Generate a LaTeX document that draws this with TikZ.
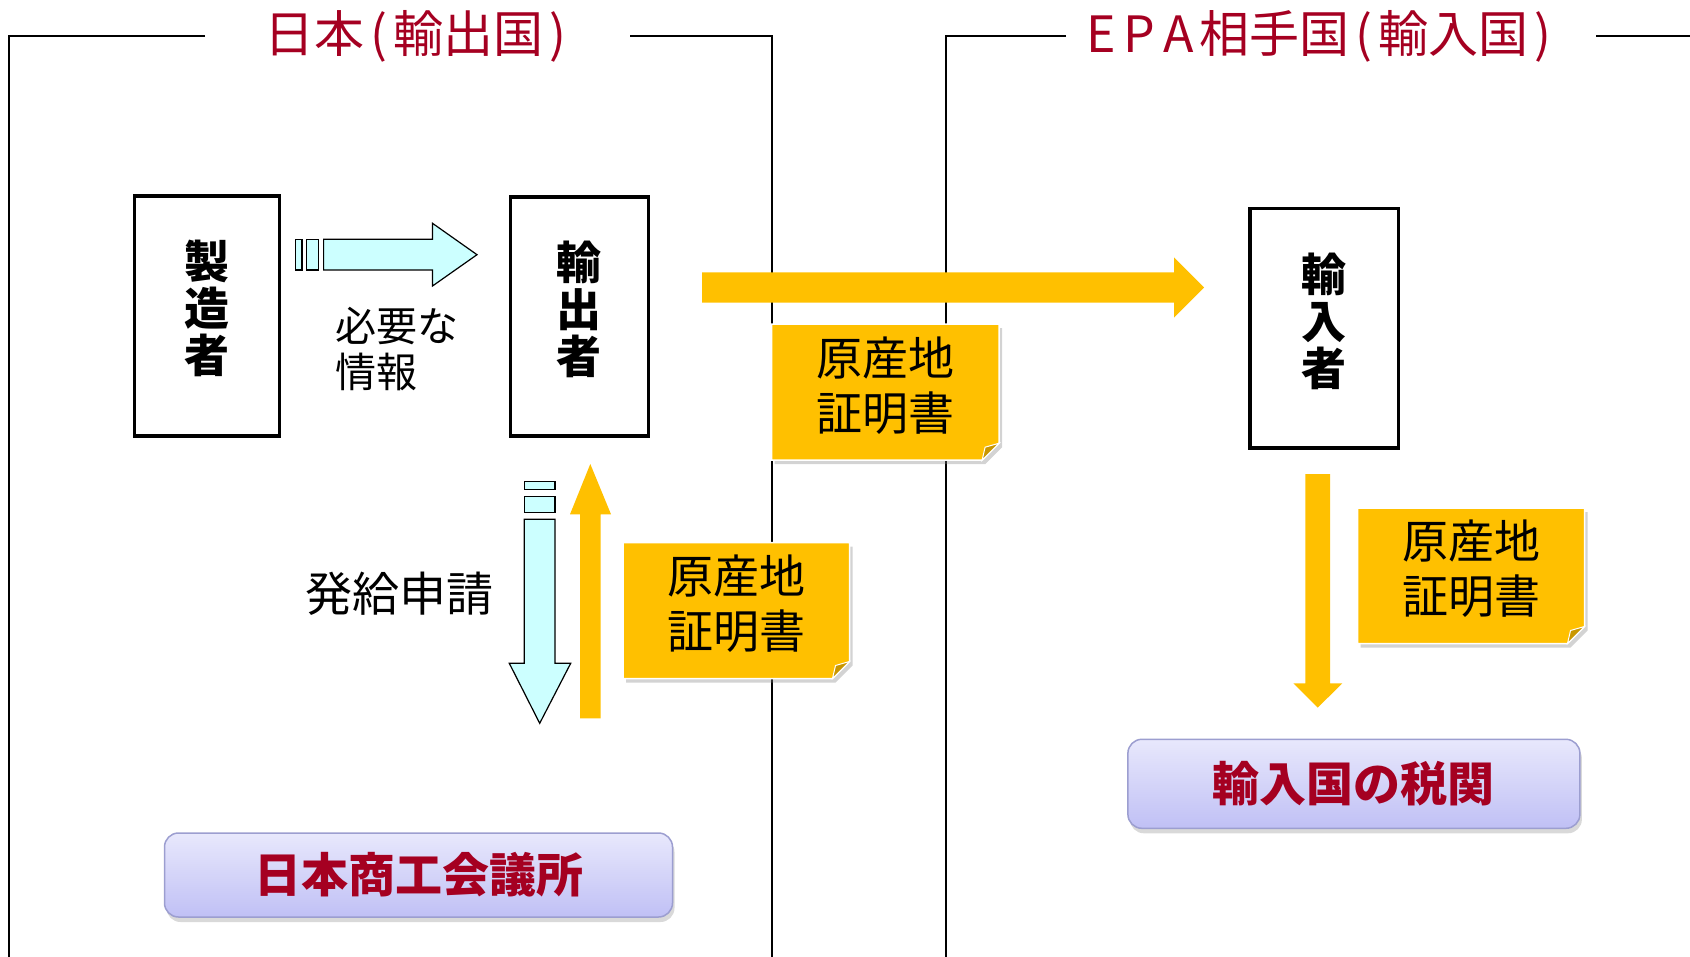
\documentclass[tikz,border=0pt]{standalone}
\usepackage{fontspec}
\newfontfamily\jp{Noto Sans CJK JP}
\usetikzlibrary{calc,shadows,backgrounds}
\definecolor{jred}{HTML}{A50021}
\definecolor{orng}{HTML}{FFC000}
\definecolor{foldc}{HTML}{C99700}
\definecolor{lcyan}{HTML}{CCFFFF}
\definecolor{lavtop}{HTML}{E8E8FC}
\definecolor{lavbot}{HTML}{C0C0F5}
\definecolor{lavedge}{HTML}{9C9ED0}
% note shape: node text sits 7pt above the sheet's centre
\newcommand\NoteBg[1]{%
  \begin{scope}[on background layer]
    \filldraw[fill=orng, draw=white, line width=1.5pt,
      drop shadow={shadow xshift=3pt, shadow yshift=-4pt, opacity=0.35}]
      ($(#1.north west)+(0,7)$) -- ($(#1.north east)+(0,7)$) -- ($(#1.south east)+(0,-10)$)
      -- ($(#1.south east)+(-17,7)$) -- ($(#1.south west)+(0,7)$) -- cycle;
    \filldraw[fill=foldc, draw=white, line width=1pt]
      ($(#1.south east)+(0,-10)$) -- ($(#1.south east)+(-17,7)$)
      -- ($(#1.south east)+(-14,-6)$) -- cycle;
  \end{scope}}
\newcommand\tk{\kern6pt}
\begin{document}
\begin{tikzpicture}[x=1pt,y=-1pt,
  frame/.style={draw=black, line width=2pt},
  title/.style={font=\jp\fontsize{50}{54}\selectfont, text=jred, inner sep=0pt},
  personbox/.style={draw=black, line width=3.5pt, inner sep=0pt},
  vtext/.style={font=\jp\bfseries\fontsize{45}{47}\selectfont, align=center, inner sep=0pt},
  infotext/.style={font=\jp\fontsize{41}{46}\selectfont, align=left, inner sep=0pt},
  reqtext/.style={font=\jp\fontsize{47}{50}\selectfont, inner sep=0pt},
  notebody/.style={inner sep=0pt, align=center, font=\jp\fontsize{46}{55}\selectfont},
  cyanarrow/.style={fill=lcyan, draw=black, line width=1.2pt, line join=miter},
  orarrow/.style={fill=orng, draw=none},
  orgbox/.style={rounded corners=14pt, top color=lavtop, bottom color=lavbot,
    draw=lavedge, line width=1.5pt,
    drop shadow={shadow xshift=2pt, shadow yshift=-5pt, opacity=0.3},
    font=\jp\bfseries\fontsize{47}{50}\selectfont, text=jred, inner sep=0pt}
]
\useasboundingbox (0,0) rectangle (1690,957);

% frames
\coordinate (fl1) at (205,35.6);
\coordinate (fl2) at (8.6,35.6);
\coordinate (fl3) at (8.6,957);
\coordinate (fl4) at (630,35.6);
\coordinate (fl5) at (771.7,35.6);
\coordinate (fl6) at (771.7,957);
\coordinate (fr1) at (1066,35.6);
\coordinate (fr2) at (946.3,35.6);
\coordinate (fr3) at (946.3,957);
\coordinate (fr4) at (1596,35.6);
\coordinate (fr5) at (1690,35.6);
\begin{scope}[on background layer]
\draw[frame] (fl1) -- (fl2) -- (fl3);
\draw[frame] (fl4) -- (fl5) -- (fl6);
\draw[frame] (fr1) -- (fr2) -- (fr3);
\draw[frame] (fr4) -- (fr5);
\end{scope}

% titles
\node[title] (t1) at (418,36) {日本\tk(\tk 輸出国\tk)\tk};
\node[title] (t2) at (1322,36) {E\kern8pt P\kern8pt A\kern6pt 相手国\tk(\tk 輸入国\tk)\tk};

% actors
\node[personbox, minimum width=145.2pt, minimum height=240pt] (maker) at (207,316) {};
\node[vtext] (makerT) at (207,308) {製\\造\\者};
\node[personbox, minimum width=137.8pt, minimum height=239pt] (exporter) at (579.4,316.3) {};
\node[vtext] (exporterT) at (579.4,309) {輸\\出\\者};
\node[personbox, minimum width=148.5pt, minimum height=239.5pt] (importer) at (1324,328.4) {};
\node[vtext] (importerT) at (1324,321) {輸\\入\\者};

% info arrow maker -> exporter
\coordinate (ia) at (323.6,254.7);
\coordinate (ib) at (477,254.7);
\draw[cyanarrow] (ia) ++(0,-15.4) -- ++(108.9,0) -- ++(0,-16) -- (ib)
  -- ++(-44.5,31.3) -- ++(0,-16) -- ++(-108.9,0) -- cycle;
\draw[cyanarrow] ($(ia)+(-27.9,-15.4)$) rectangle ($(ia)+(-21.6,15.3)$);
\draw[cyanarrow] ($(ia)+(-17.2,-15.4)$) rectangle ($(ia)+(-5,15.3)$);
\node[infotext, anchor=west] (info) at (335,349) {必要な\\情報};

% application arrow exporter -> jcci
\coordinate (da) at (539.7,519.3);
\coordinate (db) at (539.7,723.3);
\draw[cyanarrow] (da) ++(-15.4,0) -- ++(0,144) -- ++(-15,0) -- (db)
  -- ++(31,-60) -- ++(-15.7,0) -- ++(0,-144) -- cycle;
\draw[cyanarrow] ($(da)+(-15.4,-37.6)$) rectangle ($(da)+(15.3,-30)$);
\draw[cyanarrow] ($(da)+(-15.4,-22.6)$) rectangle ($(da)+(15.3,-7)$);
\node[reqtext] (req) at (399,594) {発給申請};

% certificate arrow jcci -> exporter
\coordinate (ua) at (590.3,718.3);
\coordinate (ub) at (590.3,464);
\fill[orarrow] (ua) ++(-10.3,0) -- ++(0,-204) -- ++(-10,0) -- (ub)
  -- ++(20.7,50.3) -- ++(-10.4,0) -- ++(0,204) -- cycle;

% export arrow exporter -> importer
\coordinate (oa) at (702,287.5);
\coordinate (ob) at (1204,287.5);
\fill[orarrow] (oa) ++(0,-15.2) -- ++(472,0) -- ++(0,-15) -- (ob)
  -- ++(-30,30.2) -- ++(0,-15) -- ++(-472,0) -- cycle;

% importer -> customs
\coordinate (va) at (1317.7,474);
\coordinate (vb) at (1317.7,707.7);
\fill[orarrow] (va) ++(-12.4,0) -- ++(0,209.3) -- ++(-12,0) -- (vb)
  -- ++(24.6,-24.4) -- ++(-12.3,0) -- ++(0,-209.3) -- cycle;

% certificates (text node centre 7pt above the sheet centre)
\node[notebody, minimum width=227pt, minimum height=135.6pt] (cert1) at (885.4,385.2) {原産地\\証明書};
\NoteBg{cert1}
\node[notebody, minimum width=226pt, minimum height=135.6pt] (cert2) at (736.3,603.5) {原産地\\証明書};
\NoteBg{cert2}
\node[notebody, minimum width=226.6pt, minimum height=135pt] (cert3) at (1471,568.8) {原産地\\証明書};
\NoteBg{cert3}

% organisations
\node[orgbox, minimum width=508pt, minimum height=84pt] (jcci) at (418.5,875) {日本商工会議所};
\node[orgbox, minimum width=452pt, minimum height=89pt] (customs) at (1353.9,783.8) {輸入国の税関};
\end{tikzpicture}
\end{document}
